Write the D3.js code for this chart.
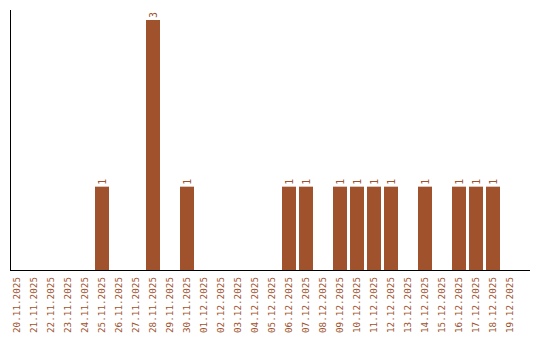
<!DOCTYPE html>
<html>
<head>
<meta charset="utf-8">
<script src="https://cdn.jsdelivr.net/npm/d3@7"></script>
<style>
  body { margin: 0; background: #fff; }
  svg text { font-family: "DejaVu Sans Mono", monospace; }
</style>
</head>
<body>
<svg id="chart" width="540" height="340"></svg>
<script>
// data
const dates = [
  '20.11.2025', '21.11.2025', '22.11.2025', '23.11.2025', '24.11.2025',
  '25.11.2025', '26.11.2025', '27.11.2025', '28.11.2025', '29.11.2025',
  '30.11.2025', '01.12.2025', '02.12.2025', '03.12.2025', '04.12.2025',
  '05.12.2025', '06.12.2025', '07.12.2025', '08.12.2025', '09.12.2025',
  '10.12.2025', '11.12.2025', '12.12.2025', '13.12.2025', '14.12.2025',
  '15.12.2025', '16.12.2025', '17.12.2025', '18.12.2025', '19.12.2025'
];
const counts = [
  0, 0, 0, 0, 0,
  1, 0, 0, 3, 0,
  1, 0, 0, 0, 0,
  0, 1, 1, 0, 1,
  1, 1, 1, 0, 1,
  0, 1, 1, 1, 0
];
const yDomain = [0, 3];

const color = '#a0522d';
const svg = d3.select('#chart');

const mLeft = 10, mRight = 530, mTop = 10, mBottom = 270;

const x = d3.scaleBand()
  .domain(dates)
  .range([8.5, 518.5])
  .paddingInner(3 / 17)
  .paddingOuter(1.5 / 17);

const y = d3.scaleLinear()
  .domain(yDomain)
  .range([mBottom, 20]);

// bars
const data = dates.map((d, i) => ({ date: d, value: counts[i] }));

svg.append('g')
  .selectAll('rect')
  .data(data.filter(d => d.value > 0))
  .join('rect')
  .attr('x', d => x(d.date))
  .attr('y', d => y(d.value))
  .attr('width', x.bandwidth())
  .attr('height', d => mBottom - y(d.value))
  .attr('fill', color);

// value labels, rotated
svg.append('g')
  .selectAll('text')
  .data(data.filter(d => d.value > 0))
  .join('text')
  .attr('transform', d => `translate(${x(d.date) + x.bandwidth() / 2 + 3.5}, ${y(d.value) - 2}) rotate(-90)`)
  .attr('text-anchor', 'start')
  .attr('font-size', 10)
  .attr('fill', color)
  .text(d => d.value);

// axes lines
svg.append('line')
  .attr('x1', mLeft + 0.5).attr('x2', mLeft + 0.5)
  .attr('y1', mTop).attr('y2', mBottom)
  .attr('stroke', '#000');
svg.append('line')
  .attr('x1', mLeft).attr('x2', mRight)
  .attr('y1', mBottom + 0.5).attr('y2', mBottom + 0.5)
  .attr('stroke', '#000');

// x tick labels
svg.append('g')
  .selectAll('text')
  .data(dates)
  .join('text')
  .attr('transform', d => `translate(${x(d) + x.bandwidth() / 2 + 3}, 277) rotate(-90)`)
  .attr('text-anchor', 'end')
  .attr('font-size', 9.3)
  .attr('fill', color)
  .text(d => d);
</script>
</body>
</html>
